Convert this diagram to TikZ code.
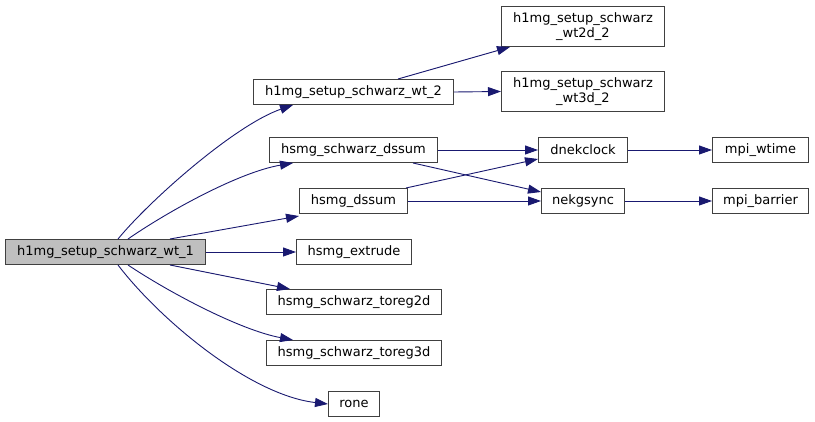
\documentclass[tikz,border=0pt]{standalone}
\usepackage{fontspec}
\setmainfont{DejaVu Sans}
\usetikzlibrary{arrows.meta}
\definecolor{edgeblue}{HTML}{191970}
\definecolor{boxline}{HTML}{404040}
\definecolor{rootfill}{HTML}{BFBFBF}
\tikzset{
  fn/.style={draw=boxline, line width=1pt, fill=white, anchor=north west, inner sep=0pt,
    align=center, font=\fontsize{13}{15}\selectfont, text=black},
  root/.style={fn, fill=rootfill},
  call/.style={draw=edgeblue, line width=0.9pt, -{Triangle[length=13pt,width=9pt]}},
}
\begin{document}
\begin{tikzpicture}[x=1pt,y=-1pt]
\useasboundingbox (0,0) rectangle (815,422);
\node[root, minimum width=200pt, minimum height=25pt] (w1) at (5,239) {h1mg\_setup\_schwarz\_wt\_1};
\node[fn, minimum width=200pt, minimum height=25pt] (w2) at (253,79) {h1mg\_setup\_schwarz\_wt\_2};
\node[fn, minimum width=163pt, minimum height=40pt] (w2d) at (501,6) {h1mg\_setup\_schwarz\\\_wt2d\_2};
\node[fn, minimum width=163pt, minimum height=40pt] (w3d) at (501,71) {h1mg\_setup\_schwarz\\\_wt3d\_2};
\node[fn, minimum width=168pt, minimum height=25pt] (sd) at (269,137) {hsmg\_schwarz\_dssum};
\node[fn, minimum width=108pt, minimum height=25pt] (hd) at (299,188) {hsmg\_dssum};
\node[fn, minimum width=115pt, minimum height=25pt] (ex) at (296,239) {hsmg\_extrude};
\node[fn, minimum width=175pt, minimum height=25pt] (t2) at (266,289) {hsmg\_schwarz\_toreg2d};
\node[fn, minimum width=175pt, minimum height=25pt] (t3) at (266,340) {hsmg\_schwarz\_toreg3d};
\node[fn, minimum width=51pt, minimum height=25pt] (ro) at (328,391) {rone};
\node[fn, minimum width=89pt, minimum height=25pt] (dk) at (538,137) {dnekclock};
\node[fn, minimum width=83pt, minimum height=25pt] (ng) at (541,188) {nekgsync};
\node[fn, minimum width=96pt, minimum height=25pt] (mw) at (712,137) {mpi\_wtime};
\node[fn, minimum width=96pt, minimum height=25pt] (mb) at (712,188) {mpi\_barrier};

\draw[call] ([xshift=113pt]w1.north west) .. controls (150,200) and (235,125) .. ([xshift=40pt]w2.south west);
\draw[call] ([xshift=123pt]w1.north west) .. controls (170,210) and (240,172) .. ([xshift=24pt]sd.south west);
\draw[call] ([xshift=165pt]w1.north west) -- ([yshift=-2pt]hd.south west);
\draw[call] (w1.east) -- (ex.west);
\draw[call] ([xshift=165pt]w1.south west) -- ([xshift=24pt]t2.north west);
\draw[call] ([xshift=123pt]w1.south west) .. controls (170,293) and (240,330) .. ([xshift=27pt]t3.north west);
\draw[call] ([xshift=113pt]w1.south west) .. controls (160,320) and (250,395) .. ([yshift=-13pt]ro.north west);
\draw[call] ([xshift=145pt]w2.north west) -- ([xshift=9pt]w2d.south west);
\draw[call] (w2.east) -- (w3d.west);
\draw[call] (sd.east) -- (dk.west);
\draw[call] ([xshift=-25pt]sd.south east) -- ([yshift=-4pt]ng.north west);
\draw[call] ([xshift=-2pt]hd.north east) -- ([yshift=4pt]dk.south west);
\draw[call] (hd.east) -- (ng.west);
\draw[call] (dk.east) -- (mw.west);
\draw[call] (ng.east) -- (mb.west);
\end{tikzpicture}
\end{document}
